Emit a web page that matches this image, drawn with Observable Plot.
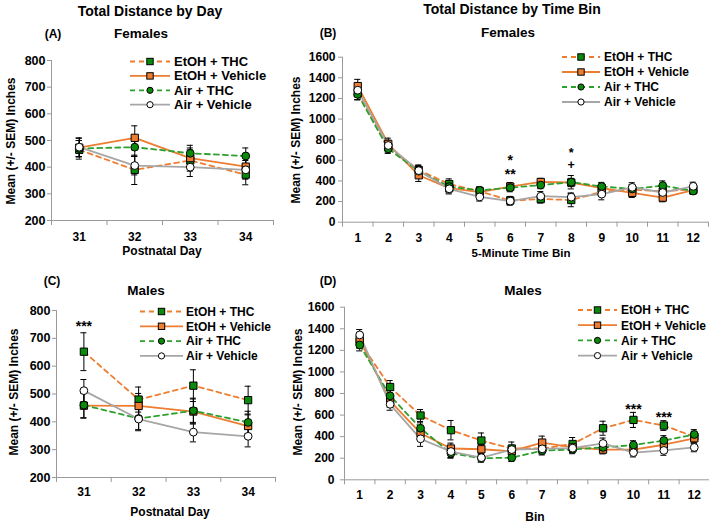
<!DOCTYPE html>
<html><head><meta charset="utf-8">
<script src="https://cdn.jsdelivr.net/npm/d3@7"></script>
<script src="https://cdn.jsdelivr.net/npm/@observablehq/plot@0.6"></script>
<style>
body{margin:0;background:#fff}
#wrap{position:relative;width:709px;height:524px;font-family:"Liberation Sans",Arial,sans-serif;font-weight:bold}
#wrap svg{position:absolute;left:0;top:0}
</style></head><body><div id="wrap"></div>
<script>
// ---------- DATA ----------
const groups = ["EtOH + THC", "EtOH + Vehicle", "Air + THC", "Air + Vehicle"];
const days = [31, 32, 33, 34];
const bins = [1, 2, 3, 4, 5, 6, 7, 8, 9, 10, 11, 12];
const dayTicks = [200, 300, 400, 500, 600, 700, 800];
const binTicks = [0, 200, 400, 600, 800, 1000, 1200, 1400, 1600];

// (A) Females by day
const fDayEtohThc = [465, 390, 425, 372];
const fDayEtohThcSem = [35, 55, 40, 38];
const fDayEtohVeh = [473, 510, 434, 402];
const fDayEtohVehSem = [35, 45, 38, 35];
const fDayAirThc = [470, 475, 452, 442];
const fDayAirThcSem = [30, 35, 30, 30];
const fDayAirVeh = [475, 406, 400, 390];
const fDayAirVehSem = [35, 35, 35, 35];

// (B) Females by bin
const fBinEtohThc = [1250, 730, 505, 370, 300, 210, 225, 215, 295, 315, 300, 320];
const fBinEtohThcSem = [60, 50, 50, 50, 40, 40, 40, 65, 45, 45, 45, 35];
const fBinEtohVeh = [1320, 760, 455, 330, 292, 345, 390, 385, 330, 285, 238, 310];
const fBinEtohVehSem = [65, 55, 60, 45, 40, 40, 35, 40, 40, 45, 40, 35];
const fBinAirThc = [1240, 712, 495, 345, 308, 335, 360, 388, 346, 322, 355, 302];
const fBinAirThcSem = [55, 45, 45, 40, 35, 40, 35, 65, 40, 40, 45, 30];
const fBinAirVeh = [1280, 744, 500, 324, 245, 205, 252, 243, 272, 338, 288, 348];
const fBinAirVehSem = [60, 50, 50, 50, 40, 40, 45, 40, 55, 45, 50, 40];

// (C) Males by day
const mDayEtohThc = [652, 480, 530, 478];
const mDayEtohThcSem = [68, 45, 57, 50];
const mDayEtohVeh = [458, 457, 437, 385];
const mDayEtohVehSem = [45, 45, 45, 40];
const mDayAirThc = [460, 412, 440, 398];
const mDayAirThcSem = [45, 40, 45, 40];
const mDayAirVeh = [512, 410, 363, 348];
const mDayAirVehSem = [40, 42, 35, 38];

// (D) Males by bin
const mBinEtohThc = [1280, 860, 596, 460, 364, 290, 290, 332, 478, 555, 503, 400];
const mBinEtohThcSem = [60, 60, 55, 90, 70, 60, 50, 60, 65, 70, 45, 50];
const mBinEtohVeh = [1300, 730, 432, 290, 283, 265, 345, 300, 280, 280, 325, 385];
const mBinEtohVehSem = [60, 55, 50, 50, 45, 40, 60, 45, 40, 40, 45, 45];
const mBinAirThc = [1250, 778, 478, 245, 200, 205, 270, 282, 300, 322, 364, 420];
const mBinAirThcSem = [55, 50, 50, 45, 35, 35, 40, 40, 40, 40, 45, 45];
const mBinAirVeh = [1343, 700, 380, 262, 205, 280, 287, 293, 337, 252, 272, 300];
const mBinAirVehSem = [50, 55, 70, 55, 40, 40, 40, 40, 50, 40, 45, 40];

// significance annotations
const starsB = [{x: 6, y: 531, t: "*\n**", lh: 1.04, fs: 14}, {x: 8, y: 611, t: "*\n+", lh: 1.0, fs: 12.5}];
const starsC = [{x: 31, y: 742, t: "***", lh: 1, fs: 14}];
const starsD = [{x: 10, y: 648, t: "***", lh: 1, fs: 14}, {x: 11, y: 579, t: "***", lh: 1, fs: 14}];

// ---------- STYLE ----------
const ORANGE = "#ED7D31", GREEN = "#0A8A0A", GREENLINE = "#2EA02E", GRAY = "#A6A6A6", AXIS = "#9A9A9A";
const FONT = '"Liberation Sans", Arial, sans-serif';
const gstyle = {
  "EtOH + THC": {stroke: ORANGE, dash: "5,4", symbol: "square", fill: GREEN},
  "EtOH + Vehicle": {stroke: ORANGE, dash: null, symbol: "square", fill: ORANGE},
  "Air + THC": {stroke: GREENLINE, dash: "5,4", symbol: "circle", fill: GREEN},
  "Air + Vehicle": {stroke: GRAY, dash: null, symbol: "circle", fill: "white"}
};

function rowsOf(xs, means, sems) {
  const out = [];
  groups.forEach((g, k) => xs.forEach((x, i) => out.push({g, x, v: means[k][i], s: sems[k][i]})));
  return out;
}

const wrap = document.getElementById("wrap");

function panel(c) {
  const rows = rowsOf(c.xs, c.means, c.sems);
  const bounds = d3.range(c.xDomain[0], c.xDomain[1] + 0.001, 1);
  const marks = [
    Plot.ruleX([c.xDomain[0]], {stroke: AXIS}),
    Plot.ruleY([c.yDomain[0]], {stroke: AXIS}),
    Plot.axisY({ticks: c.yTicks, tickSize: 4, tickPadding: c.yPad, tickFormat: d => String(d), stroke: AXIS, fill: "black", fontSize: c.yFont, fontWeight: "bold", label: null}),
    Plot.axisX({ticks: bounds, tickSize: 5, tickFormat: () => "", stroke: AXIS, label: null}),
    Plot.axisX({ticks: c.xs, tickSize: 0, tickPadding: c.xPad, tickFormat: d => String(d), fill: "black", fontSize: 12, fontWeight: "bold", label: null})
  ];
  for (const g of groups) {
    const st = gstyle[g];
    marks.push(Plot.line(rows.filter(d => d.g === g), {x: "x", y: "v", stroke: st.stroke, strokeWidth: 1.8, strokeDasharray: st.dash}));
  }
  marks.push(Plot.ruleX(rows, {x: "x", y1: d => d.v - d.s, y2: d => d.v + d.s, stroke: "black", strokeWidth: 1}));
  marks.push(Plot.ruleY(rows, {y: d => d.v + d.s, x1: d => d.x - c.cap, x2: d => d.x + c.cap, stroke: "black", strokeWidth: 1}));
  marks.push(Plot.ruleY(rows, {y: d => d.v - d.s, x1: d => d.x - c.cap, x2: d => d.x + c.cap, stroke: "black", strokeWidth: 1}));
  for (const g of groups) {
    const st = gstyle[g];
    marks.push(Plot.dot(rows.filter(d => d.g === g), {x: "x", y: "v", symbol: st.symbol, r: st.symbol === "square" ? 4.1 : 3.9, fill: st.fill, stroke: "black", strokeWidth: 1}));
  }
  if (c.stars) for (const st of c.stars)
    marks.push(Plot.text([st], {x: "x", y: "y", text: "t", fontSize: st.fs, lineHeight: st.lh, fontWeight: "bold", fill: "black"}));
  const svg = Plot.plot({
    width: 709, height: 524,
    marginLeft: c.left, marginRight: 709 - c.right, marginTop: c.top, marginBottom: 524 - c.bottom,
    x: {type: "linear", domain: c.xDomain, label: null},
    y: {type: "linear", domain: c.yDomain, label: null},
    style: {background: "transparent", fontFamily: FONT, overflow: "visible"},
    marks
  });
  wrap.appendChild(svg);
  const s = d3.select(svg);
  const txt = (x, y, t, size, anchor = "middle", rot = false) => {
    const e = s.append("text").attr("font-family", FONT).attr("font-weight", "bold").attr("font-size", size)
      .attr("fill", "black").attr("text-anchor", anchor).text(t);
    if (rot) e.attr("transform", `translate(${x},${y}) rotate(-90)`); else e.attr("x", x).attr("y", y);
  };
  for (const t of c.texts) txt(...t);
  // legend
  const L = c.legend;
  groups.forEach((g, k) => {
    const st = gstyle[g];
    const y = L.y + k * L.dy;
    s.append("line").attr("x1", L.x1).attr("x2", L.x2).attr("y1", y).attr("y2", y)
      .attr("stroke", st.stroke).attr("stroke-width", 1.8).attr("stroke-dasharray", st.dash);
    const mx = (L.x1 + L.x2) / 2;
    if (st.symbol === "square") s.append("rect").attr("x", mx - 3.2).attr("y", y - 3.2).attr("width", 6.4).attr("height", 6.4)
      .attr("fill", st.fill).attr("stroke", "black");
    else s.append("circle").attr("cx", mx).attr("cy", y).attr("r", 3.1).attr("fill", st.fill).attr("stroke", "black");
    s.append("text").attr("x", L.tx).attr("y", y + 4.3).attr("text-anchor", "start").attr("font-family", FONT).attr("font-weight", "bold")
      .attr("font-size", L.fs).attr("fill", "black").text(g);
  });
}

// (A)
panel({
  xs: days, xDomain: [30.5, 34.5], yDomain: [200, 800], yTicks: dayTicks,
  means: [fDayEtohThc, fDayEtohVeh, fDayAirThc, fDayAirVeh],
  sems: [fDayEtohThcSem, fDayEtohVehSem, fDayAirThcSem, fDayAirVehSem],
  left: 51, right: 273, top: 60, bottom: 220, yPad: 2, xPad: 11.5, yFont: 12.5, cap: 0.055,
  texts: [[150, 16, "Total Distance by Day", 14], [53, 38, "(A)", 12], [141, 38, "Females", 13.5],
          [15, 141, "Mean (+/- SEM) Inches", 12, "middle", true], [162, 255, "Postnatal Day", 12]],
  legend: {x1: 130, x2: 170, y: 61.5, dy: 14.4, tx: 174, fs: 13}
});
// (B)
panel({
  xs: bins, xDomain: [0.5, 12.5], yDomain: [0, 1600], yTicks: binTicks,
  means: [fBinEtohThc, fBinEtohVeh, fBinAirThc, fBinAirVeh],
  sems: [fBinEtohThcSem, fBinEtohVehSem, fBinAirThcSem, fBinAirVehSem],
  left: 342, right: 708, top: 56.7, bottom: 221.7, yPad: 3, xPad: 11, yFont: 12, cap: 0.1, stars: starsB,
  texts: [[512, 14, "Total Distance by Time Bin", 14], [328, 37, "(B)", 12], [508, 37, "Females", 13.5],
          [300, 140, "Mean (+/- SEM) Inches", 12, "middle", true], [521, 257, "5-Minute Time Bin", 11.5]],
  legend: {x1: 562, x2: 600, y: 57, dy: 15, tx: 604, fs: 12}
});
// (C)
panel({
  xs: days, xDomain: [30.5, 34.5], yDomain: [200, 800], yTicks: dayTicks,
  means: [mDayEtohThc, mDayEtohVeh, mDayAirThc, mDayAirVeh],
  sems: [mDayEtohThcSem, mDayEtohVehSem, mDayAirThcSem, mDayAirVehSem],
  left: 56, right: 275, top: 310, bottom: 477, yPad: 2, xPad: 9.5, yFont: 12.5, cap: 0.055, stars: starsC,
  texts: [[52, 285, "(C)", 12], [146, 295, "Males", 13.5],
          [18, 392, "Mean (+/- SEM) Inches", 12, "middle", true], [170, 516, "Postnatal Day", 12]],
  legend: {x1: 140, x2: 183, y: 311.5, dy: 14.8, tx: 186, fs: 12}
});
// (D)
panel({
  xs: bins, xDomain: [0.5, 12.5], yDomain: [0, 1600], yTicks: binTicks,
  means: [mBinEtohThc, mBinEtohVeh, mBinAirThc, mBinAirVeh],
  sems: [mBinEtohThcSem, mBinEtohVehSem, mBinAirThcSem, mBinAirVehSem],
  left: 344, right: 709, top: 306.7, bottom: 479.3, yPad: 6, xPad: 11, yFont: 12, cap: 0.1, stars: starsD,
  texts: [[328, 285, "(D)", 12], [523, 295, "Males", 13.5],
          [302, 392, "Mean (+/- SEM) Inches", 12, "middle", true], [535, 521, "Bin", 12]],
  legend: {x1: 578, x2: 617, y: 310, dy: 15.2, tx: 621, fs: 12}
});
</script></body></html>
